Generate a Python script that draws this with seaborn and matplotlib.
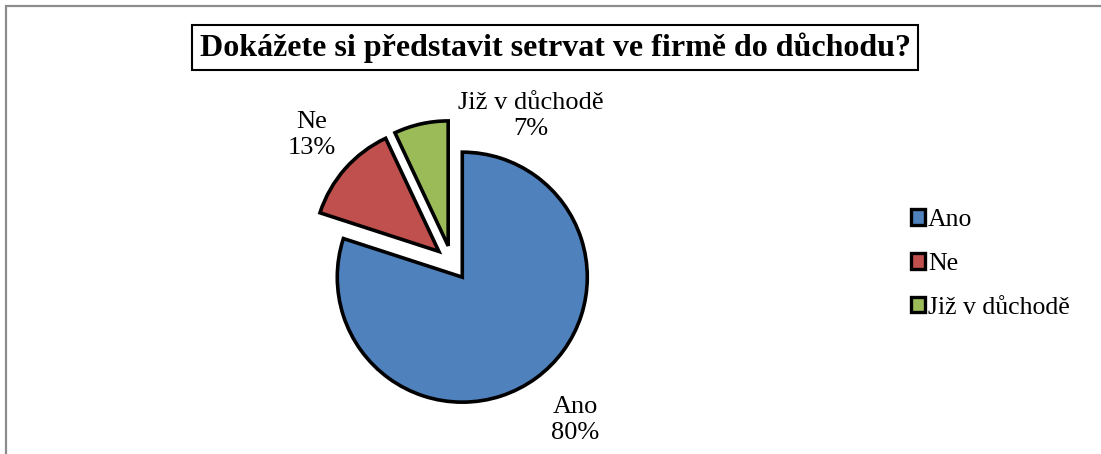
import matplotlib
matplotlib.use("Agg")
import matplotlib.pyplot as plt
import seaborn as sns
import numpy as np
from matplotlib.patches import Rectangle

categories = ["Ano", "Ne", "Již v důchodě"]
values = [80, 13, 7]
pct_labels = ["80%", "13%", "7%"]
colors = ["#4F81BD", "#C0504D", "#9BBB59"]
title = "Dokážete si představit setrvat ve firmě do důchodu?"

sns.set_theme(style="white")
plt.rcParams["font.family"] = ["Liberation Serif", "DejaVu Serif"]
plt.rcParams["text.color"] = "black"

W, H = 1101, 454
fig = plt.figure(figsize=(W / 100, H / 100), dpi=100)
fig.patch.set_facecolor("white")

# pie geometry in pixels
cx, cy, r = 452, 263, 125
ax = fig.add_axes([0, 0, 1, 1])

wedges, _ = ax.pie(values, colors=colors, startangle=90, counterclock=False,
                   explode=[0.14, 0.14, 0.14], radius=1.0,
                   wedgeprops=dict(edgecolor="black", linewidth=2.6, joinstyle="miter"))
ax.set_xlim(-cx / r, (W - cx) / r)
ax.set_ylim(-(H - cy) / r, cy / r)
ax.set_aspect("equal")
ax.axis("off")

# data labels (positions relative to pie center, in radius units)
label_pos = [((575 - cx) / r, (cy - 420) / r),
             ((312 - cx) / r, (cy - 135) / r),
             ((531 - cx) / r, (cy - 116) / r)]
for cat, pct, (lx, ly) in zip(categories, pct_labels, label_pos):
    ax.text(lx, ly, f"{cat}\n{pct}", ha="center", va="center", fontsize=19,
            linespacing=1.25, color="black")

leg = ax.legend(wedges, categories, loc="center left",
                bbox_to_anchor=(898 / W, 1 - 264 / H), bbox_transform=fig.transFigure,
                frameon=False, fontsize=18.5, handlelength=0.55, handleheight=0.55,
                handletextpad=0.12, labelspacing=0.85, borderpad=0)
for t in leg.get_texts():
    t.set_color("black")
for h in leg.legend_handles:
    h.set_linewidth(2.4)
    h.set_edgecolor("black")

fig.text(555 / W, 1 - 47.5 / H, title, ha="center", va="center", fontsize=23,
         fontweight="bold", color="black",
         bbox=dict(boxstyle="square,pad=0.22", facecolor="white", edgecolor="black", linewidth=1.5))

# chart area frame
fig.patches.append(Rectangle((6.5 / W, -0.1), 1.2, 1.1 - 6.5 / H, transform=fig.transFigure,
                             fill=False, edgecolor="#8c8c8c", linewidth=1.6))

fig.savefig("out.png", dpi=100, facecolor="white")
